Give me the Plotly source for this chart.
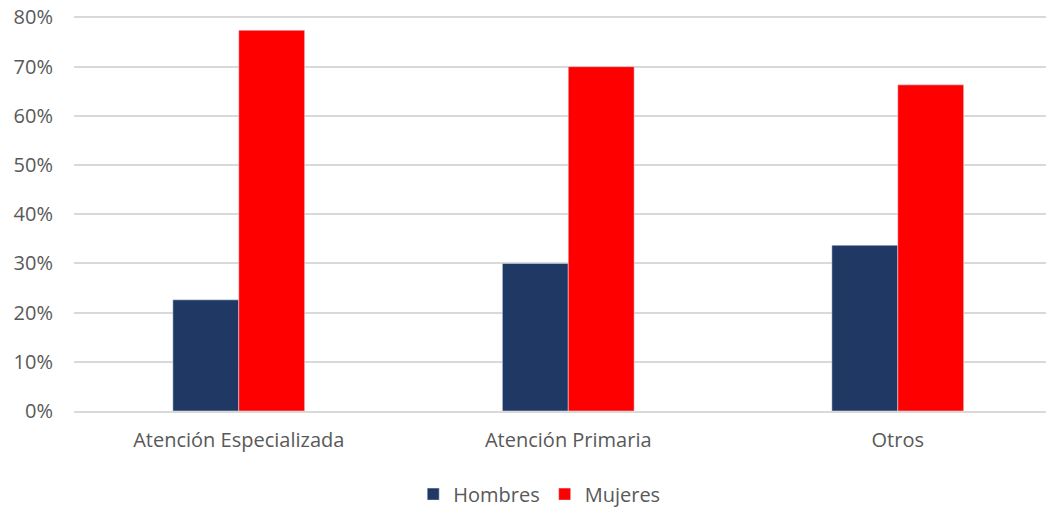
import plotly.graph_objects as go

categories = ["Atención Especializada", "Atención Primaria", "Otros"]
hombres = [0.226, 0.300, 0.337]
mujeres = [0.774, 0.700, 0.663]
y_ticks = [0, 0.1, 0.2, 0.3, 0.4, 0.5, 0.6, 0.7, 0.8]
y_tick_labels = ["0%", "10%", "20%", "30%", "40%", "50%", "60%", "70%", "80%"]

font_family = "Open Sans, Liberation Sans, sans-serif"
text_color = "#595959"

fig = go.Figure()
fig.add_trace(go.Bar(name="Hombres", x=categories, y=hombres, marker_color="#1F3864"))
fig.add_trace(go.Bar(name="Mujeres", x=categories, y=mujeres, marker_color="#FF0000"))

fig.update_layout(
    width=1054, height=509,
    margin=dict(l=66, r=12, t=7, b=106, autoexpand=False),
    plot_bgcolor="white", paper_bgcolor="white",
    barmode="group", bargap=0.6, bargroupgap=0,
    font=dict(family=font_family, size=20, color=text_color),
    showlegend=True,
    legend=dict(orientation="h", x=0.504, xanchor="center", xref="container",
                y=0.045, yanchor="middle", yref="container",
                font=dict(size=20, color=text_color), itemwidth=30, traceorder="normal"),
)
fig.update_xaxes(range=[-0.5, 2.462], showline=True, linecolor="#d9d9d9", linewidth=1.5,
                 showgrid=False, ticks="", ticklabelstandoff=10, automargin=False,
                 tickfont=dict(size=20, color=text_color))
fig.update_yaxes(range=[0, 0.805], tickvals=y_ticks, ticktext=y_tick_labels,
                 showgrid=True, gridcolor="#d9d9d9", gridwidth=1.5, zeroline=False,
                 ticks="", ticklabelstandoff=20, automargin=False, ticklabeloverflow="allow",
                 tickfont=dict(size=20, color=text_color))

fig.write_html("out.html")
